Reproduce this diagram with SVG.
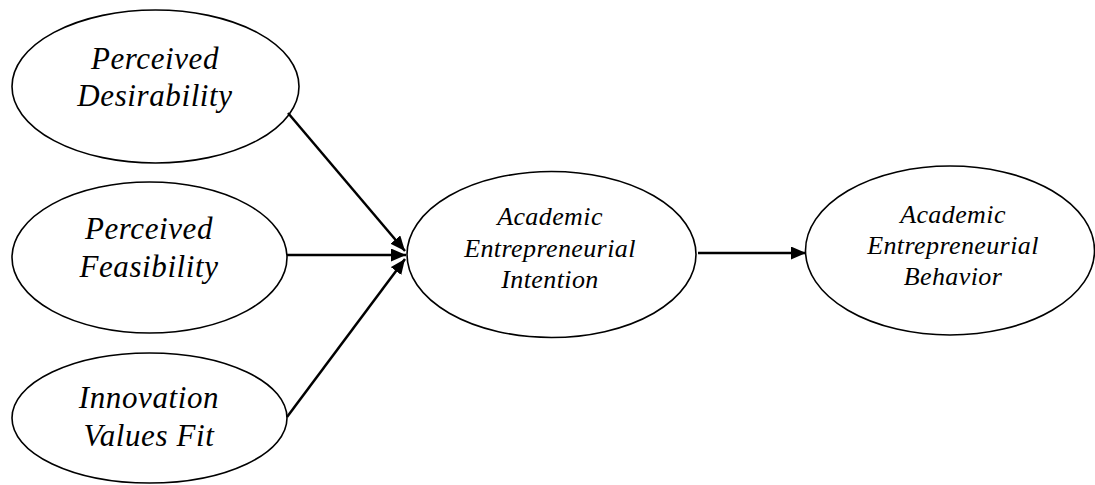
<svg xmlns="http://www.w3.org/2000/svg" width="1095" height="485" viewBox="0 0 1095 485">
<defs>
<marker id="ah" markerWidth="15" markerHeight="13" refX="15" refY="6.5" orient="auto" markerUnits="userSpaceOnUse" viewBox="0 0 15 13">
<path d="M0,0 L15,6.5 L0,13 z" fill="#000"/>
</marker>
<style>
.n{fill:#fff;stroke:#000;stroke-width:1.6}
.t1{font-family:"Liberation Serif","Times New Roman",serif;font-style:italic;font-size:31px;letter-spacing:0.6px;fill:#000;text-anchor:middle}
.t2{font-family:"Liberation Serif","Times New Roman",serif;font-style:italic;font-size:26px;letter-spacing:0.4px;fill:#000;text-anchor:middle}
.c{stroke:#000;stroke-width:2.5;fill:none;marker-end:url(#ah)}
</style>
</defs>
<rect width="1095" height="485" fill="#fff"/>
<g id="desirability">
<ellipse class="n" cx="155.5" cy="86.5" rx="143.5" ry="76.5"/>
<text class="t1" x="155" y="69">Perceived</text>
<text class="t1" x="155" y="106">Desirability</text>
</g>
<g id="feasibility">
<ellipse class="n" cx="149.5" cy="257.5" rx="137.5" ry="75.5"/>
<text class="t1" x="149" y="239">Perceived</text>
<text class="t1" x="149" y="277">Feasibility</text>
</g>
<g id="innovation">
<ellipse class="n" cx="149.5" cy="418" rx="137.5" ry="65"/>
<text class="t1" x="149" y="408">Innovation</text>
<text class="t1" x="149" y="446">Values Fit</text>
</g>
<g id="intention">
<ellipse class="n" cx="551.5" cy="254.5" rx="144.5" ry="83"/>
<text class="t2" x="550" y="225">Academic</text>
<text class="t2" x="550" y="257">Entrepreneurial</text>
<text class="t2" x="550" y="288">Intention</text>
</g>
<g id="behavior">
<ellipse class="n" cx="950" cy="250.5" rx="144.5" ry="84.5"/>
<text class="t2" x="953" y="223">Academic</text>
<text class="t2" x="953" y="254">Entrepreneurial</text>
<text class="t2" x="953" y="285">Behavior</text>
</g>
<g id="connectors">
<line class="c" x1="288" y1="113" x2="405" y2="251"/>
<line class="c" x1="287" y1="255" x2="406" y2="255"/>
<line class="c" x1="287" y1="417" x2="405" y2="259"/>
<line class="c" x1="698" y1="253" x2="806" y2="253"/>
</g>
</svg>
